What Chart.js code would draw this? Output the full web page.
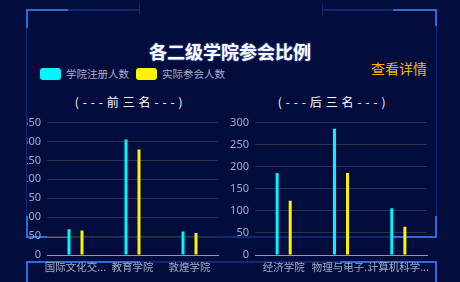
<!DOCTYPE html>
<html>
<head>
<meta charset="utf-8">
<script src="https://cdn.jsdelivr.net/npm/chart.js@4.4.0/dist/chart.umd.min.js"></script>
<style>
  html, body { margin: 0; padding: 0; background: #020d3e; }
  #page { position: relative; width: 460px; height: 282px; overflow: hidden; background: #020d3e;
          font-family: "Noto Sans CJK SC", "Noto Sans", sans-serif; }
  .ln { position: absolute; }
  .dim { background: #0b2a72; }
  .lit { background: #2d6bd6; }
  #title { position: absolute; left: 0; width: 460px; top: 39px; text-align: center; color: #fff;
           font-size: 18px; font-weight: bold; line-height: 24px; text-shadow: 0 0 2px #6f8cff; }
  .lg { position: absolute; top: 68px; width: 21px; height: 12px; border-radius: 3px; }
  .lgt { position: absolute; top: 65px; color: #a3abc4; font-size: 10.5px; line-height: 18px; white-space: nowrap; }
  #more { position: absolute; left: 371px; top: 58px; color: #f5b600; font-size: 14px; line-height: 20px; }
  .sub { position: absolute; top: 93px; width: 160px; text-align: center; color: #fff; font-size: 12px;
         line-height: 18px; white-space: pre; letter-spacing: 0.6px; }
  .cv { position: absolute; z-index: 2; }
</style>
</head>
<body>
<div id="page">
  <!-- upper panel frame -->
  <div class="ln dim" style="left:26px;top:9px;width:114px;height:2px;"></div>
  <div class="ln lit" style="left:26px;top:9px;width:42px;height:2px;"></div>
  <div class="ln dim" style="left:139px;top:3px;width:1px;height:12px;"></div>
  <div class="ln dim" style="left:26px;top:9px;width:1px;height:228px;"></div>
  <div class="ln lit" style="left:26px;top:9px;width:2px;height:19px;"></div>
  <div class="ln dim" style="left:322px;top:9px;width:114px;height:2px;"></div>
  <div class="ln lit" style="left:393px;top:9px;width:44px;height:2px;"></div>
  <div class="ln dim" style="left:322px;top:3px;width:1px;height:12px;"></div>
  <div class="ln dim" style="left:436px;top:9px;width:1px;height:228px;"></div>
  <div class="ln lit" style="left:435px;top:9px;width:2px;height:17px;"></div>
  <div class="ln dim" style="left:26px;top:236px;width:411px;height:2px;"></div>
  <div class="ln lit" style="left:26px;top:236px;width:42px;height:2px;"></div>
  <div class="ln lit" style="left:26px;top:216px;width:2px;height:22px;"></div>
  <div class="ln lit" style="left:393px;top:236px;width:44px;height:2px;"></div>
  <div class="ln lit" style="left:435px;top:216px;width:2px;height:22px;"></div>
  <!-- lower panel frame -->
  <div class="ln dim" style="left:26px;top:261px;width:411px;height:2px;"></div>
  <div class="ln lit" style="left:26px;top:261px;width:114px;height:2px;"></div>
  <div class="ln lit" style="left:340px;top:261px;width:97px;height:2px;"></div>
  <div class="ln lit" style="left:26px;top:261px;width:2px;height:21px;"></div>
  <div class="ln lit" style="left:435px;top:261px;width:2px;height:21px;"></div>

  <div id="title">各二级学院参会比例</div>
  <div class="lg" style="left:40px;background:#00f6ff;"></div>
  <div class="lgt" style="left:66px;">学院注册人数</div>
  <div class="lg" style="left:136px;background:#fff100;"></div>
  <div class="lgt" style="left:162px;">实际参会人数</div>
  <div id="more">查看详情</div>

  <div class="sub" style="left:49px;">( - - - 前 三 名 - - - )</div>
  <div class="sub" style="left:252px;">( - - - 后 三 名 - - - )</div>

  <div style="position:absolute;left:27px;top:110px;width:203px;height:172px;overflow:hidden;z-index:2;">
    <canvas id="canvas" width="230" height="172" style="position:absolute;left:-27px;top:0;"></canvas>
  </div>
  <canvas id="canvas2" class="cv" width="230" height="172" style="left:208px;top:110px;"></canvas>
</div>

<script>
// 前三名
let top_labels = ['国际文化交...', '教育学院', '敦煌学院'];
let top_registered = [68, 305, 62];
let top_attended = [65, 279, 58];

// 后三名
let bottom_labels = ['经济学院', '物理与电子..', '计算机科学...'];
let bottom_registered = [186, 286, 106];
let bottom_attended = [123, 186, 64];

let top_ticks = { max: 350, step: 50 };
let bottom_ticks = { max: 300, step: 50 };

function montaConfig(labels, registrados, presentes, escala, padTop, padRight) {
  return {
    type: 'bar',
    data: {
      labels: labels,
      datasets: [{
        label: '学院注册人数',
        data: registrados,
        backgroundColor: '#00f6ff'
      }, {
        label: '实际参会人数',
        data: presentes,
        backgroundColor: '#fff100'
      }]
    },
    options: {
      responsive: false,
      animation: false,
      devicePixelRatio: 1,
      layout: { padding: { top: padTop, right: padRight, left: 0, bottom: 0 } },
      datasets: { bar: { categoryPercentage: 0.456, barPercentage: 0.23 } },
      plugins: {
        legend: { display: false },
        title: { display: false },
        tooltip: { enabled: false }
      },
      scales: {
        x: {
          grid: { display: false, drawTicks: false },
          border: { display: true, color: '#8e95ad', width: 1 },
          ticks: {
            color: '#a3abc4',
            padding: 6,
            maxRotation: 0,
            autoSkip: false,
            font: { family: 'Noto Sans CJK SC', size: 10.5 }
          },
          afterFit: function(s) { s.height = 27; }
        },
        y: {
          min: 0,
          max: escala.max,
          grid: { color: '#2b3148', lineWidth: 1, drawTicks: false },
          border: { display: false },
          ticks: {
            stepSize: escala.step,
            color: '#a3abc4',
            padding: 6,
            font: { family: 'Noto Sans', size: 11 }
          },
          afterFit: function(s) { s.width = 47; }
        }
      }
    }
  };
}

let chart = new Chart(document.getElementById('canvas'),
  montaConfig(top_labels, top_registered, top_attended, top_ticks, 8, 12));
let chart2 = new Chart(document.getElementById('canvas2'),
  montaConfig(bottom_labels, bottom_registered, bottom_attended, bottom_ticks, 9, 11));
</script>
</body>
</html>
